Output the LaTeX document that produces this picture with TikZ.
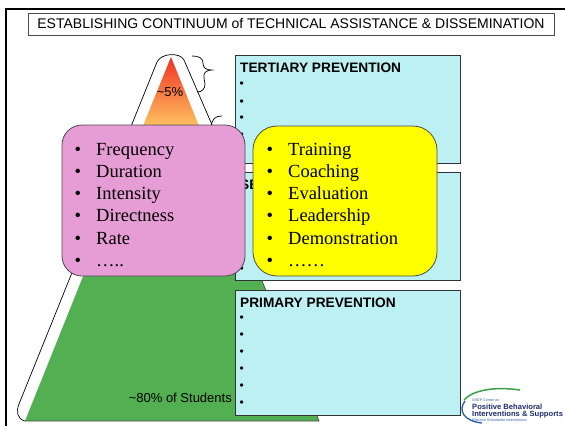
\documentclass[tikz,border=0pt]{standalone}
\usepackage{fontspec}
\setmainfont{Liberation Serif}
\newfontfamily\arial{Liberation Sans}
\definecolor{cyanc}{RGB}{189,240,243}
\definecolor{pinkc}{RGB}{230,156,212}
\definecolor{yelc}{RGB}{255,255,0}
\definecolor{greenc}{RGB}{82,176,82}
\definecolor{redtop}{RGB}{240,50,34}
\definecolor{redbot}{RGB}{255,200,100}
\definecolor{navyc}{RGB}{30,45,110}
\definecolor{logoblue}{RGB}{40,90,170}
\definecolor{logogreen}{RGB}{60,160,70}
\begin{document}
\begin{tikzpicture}[x=1pt,y=-1pt,
  cbox/.style={draw=black!80, fill=cyanc, line width=0.8pt, inner sep=0pt, outer sep=0pt, anchor=north west},
  rbox/.style={draw=black!70, line width=0.8pt, inner sep=0pt, outer sep=0pt, anchor=north west},
  lbl/.style={font=\arial\bfseries\fontsize{13.7}{14}\selectfont, anchor=base west, inner sep=0pt},
  dot/.style={font=\arial\fontsize{12}{12}\selectfont, anchor=base west, inner sep=0pt},
  item/.style={font=\fontsize{18.5}{20}\selectfont, anchor=base west, inner sep=0pt},
  note/.style={font=\arial\fontsize{13}{14}\selectfont, inner sep=0pt},
  edge/.style={draw=black, line width=0.7pt},
  tiny/.style={font=\arial\fontsize{3.6}{4}\selectfont, text=logoblue, anchor=base west, inner sep=0pt},
  logo/.style={font=\arial\bfseries\fontsize{7.6}{8}\selectfont, text=navyc, anchor=base west, inner sep=0pt}
]
\useasboundingbox (0,0) rectangle (565,426);
\fill[white] (0,0) rectangle (565,426);
% frame
\coordinate (ftl) at (6,9);
\coordinate (ftr) at (565,9);
\coordinate (fbl) at (6,426);
\draw[line width=2pt] (ftr) -- (ftl) -- (fbl);
% title
\node[draw=black!70, line width=0.8pt, minimum width=526, minimum height=22, inner sep=0pt, outer sep=0pt, anchor=north west, font=\arial\fontsize{14}{16}\selectfont] (title) at (28,13) {ESTABLISHING CONTINUUM of TECHNICAL ASSISTANCE \& DISSEMINATION};
% outline behind the pyramid
\path[edge, fill=white] (25,421) .. controls (17,419) and (16,411) .. (19,404) -- (157,62) .. controls (161,53) and (180,52) .. (184,60) -- (216,134);
% braces
\draw[edge] (192,56) .. controls (199,56) and (203,58) .. (203,63) .. controls (203,68) and (206,70) .. (212,70) .. controls (206,70) and (203,73) .. (204,78) -- (205,84) .. controls (205,89) and (202,92) .. (197,92);
\draw[edge] (211,127) .. controls (212,119) and (215,116) .. (222,116);
% pyramid
\coordinate (apex) at (171,57);
\shade[top color=redtop, bottom color=redbot] (apex) -- (200.3,129) -- (141.7,129) -- cycle;
\coordinate (bl) at (25,421);
\coordinate (br) at (319,421);
\coordinate (gtl) at (85.6,270);
\coordinate (gtr) at (257.6,270);
\fill[greenc] (bl) -- (gtl) -- (gtr) -- (br) -- cycle;
\draw[black!70, line width=0.7pt] (bl) -- (br) -- (gtr);
% prevention boxes
\node[cbox, minimum width=225, minimum height=108] (tert) at (235,55) {};
\node[cbox, minimum width=225, minimum height=108] (sec) at (235,172) {};
\node[cbox, minimum width=225, minimum height=125] (prim) at (235,290) {};
\node[lbl] (tertl) at (240,72) {TERTIARY PREVENTION};
\node[dot] (td1) at (239.5,87.3) {•};
\node[dot] (td2) at (239.5,105.3) {•};
\node[dot] (td3) at (239.5,121.3) {•};
\node[dot] (td4) at (239.5,138.3) {•};
\node[lbl] (secl) at (240,189) {SECONDARY PREVENTION};
\node[dot] (sd1) at (239.5,204.3) {•};
\node[dot] (sd2) at (239.5,221.3) {•};
\node[dot] (sd3) at (239.5,238.3) {•};
\node[dot] (sd4) at (239.5,255.3) {•};
\node[dot] (sd5) at (239.5,272.3) {•};
\node[lbl] (priml) at (240,307) {PRIMARY PREVENTION};
\node[dot] (pd1) at (239.5,321.3) {•};
\node[dot] (pd2) at (239.5,338.3) {•};
\node[dot] (pd3) at (239.5,355.3) {•};
\node[dot] (pd4) at (239.5,372.3) {•};
\node[dot] (pd5) at (239.5,389.3) {•};
\node[dot] (pd6) at (239.5,406.3) {•};
% percentages
\node[note] (five) at (170,92) {\textasciitilde5\%};
\node[note, anchor=base east] (eighty) at (232,402) {\textasciitilde80\% of Students};
% pink box
\node[rbox, fill=pinkc, minimum width=183, minimum height=151, rounded corners=20] (pink) at (62,125) {};
\node[item] (pb1) at (74.5,155) {•};
\node[item] (pt1) at (96,155) {Frequency};
\node[item] (pb2) at (74.5,177.3) {•};
\node[item] (pt2) at (96,177.3) {Duration};
\node[item] (pb3) at (74.5,199.6) {•};
\node[item] (pt3) at (96,199.6) {Intensity};
\node[item] (pb4) at (74.5,221.9) {•};
\node[item] (pt4) at (96,221.9) {Directness};
\node[item] (pb5) at (74.5,244.2) {•};
\node[item] (pt5) at (96,244.2) {Rate};
\node[item] (pb6) at (74.5,266.5) {•};
\node[item] (pt6) at (96,266.5) {…..};
% yellow box
\node[rbox, fill=yelc, minimum width=184, minimum height=150, rounded corners=24] (yel) at (253,126) {};
\node[item] (yb1) at (266.5,155) {•};
\node[item] (yt1) at (288,155) {Training};
\node[item] (yb2) at (266.5,177.3) {•};
\node[item] (yt2) at (288,177.3) {Coaching};
\node[item] (yb3) at (266.5,199.6) {•};
\node[item] (yt3) at (288,199.6) {Evaluation};
\node[item] (yb4) at (266.5,221.9) {•};
\node[item] (yt4) at (288,221.9) {Leadership};
\node[item] (yb5) at (266.5,244.2) {•};
\node[item] (yt5) at (288,244.2) {Demonstration};
\node[item] (yb6) at (266.5,266.5) {•};
\node[item] (yt6) at (288,266.5) {……};
% logo
\draw[logogreen, line width=1.5pt] (464,400) .. controls (472,391) and (492,386) .. (520,390);
\draw[logoblue, line width=1.3pt] (465,401) .. controls (458,410) and (463,421) .. (482,423);
\node[tiny] (l1) at (472,401) {OSEP Center on};
\node[logo] (l2) at (472,409) {Positive Behavioral};
\node[logo] (l3) at (472,416.5) {Interventions \& Supports};
\node[tiny] (l4) at (472,421) {Effective Schoolwide Interventions};
\end{tikzpicture}
\end{document}
